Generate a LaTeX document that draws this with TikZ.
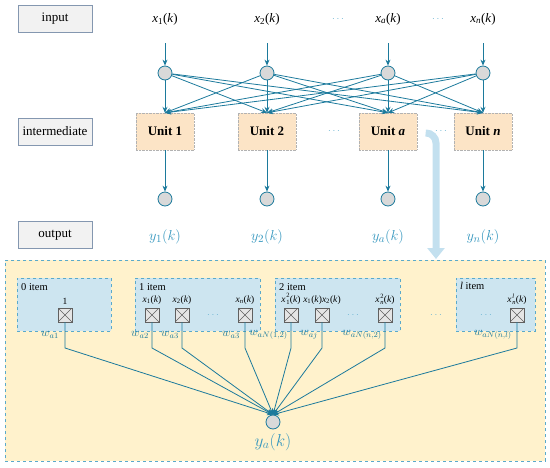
\documentclass[tikz,border=0pt]{standalone}
\usepackage{fontspec}
\setmainfont{Liberation Serif}
\usetikzlibrary{arrows.meta,positioning}
\usepackage{xcolor}
\definecolor{wire}{HTML}{1C7A9C}
\definecolor{ytext}{HTML}{3496BE}
\definecolor{dots}{HTML}{6BB4D2}
\definecolor{labfill}{HTML}{F2F2F2}
\definecolor{labedge}{HTML}{8497B0}
\definecolor{unitfill}{HTML}{FCE4C6}
\definecolor{hidfill}{HTML}{FFF2CC}
\definecolor{itemfill}{HTML}{CDE5F0}
\definecolor{dashedge}{HTML}{5AAACB}
\definecolor{bigblue}{HTML}{C3E0EF}
\newcommand\xsubsup[2]{\kern.8pt\raisebox{-2.2pt}{\fontsize{6.5}{7}\selectfont\shortstack[l]{#2\\#1}}\kern.3pt}

\begin{document}
\begin{tikzpicture}[x=1pt,y=-1pt,font=\fontsize{13}{15}\selectfont,
        lab/.style={rectangle,draw=labedge,fill=labfill,minimum width=74pt,minimum height=27pt},
        unit/.style={rectangle,draw=gray!60,densely dotted,fill=unitfill,minimum width=58pt,
                     minimum height=37pt,font=\fontsize{13}{15}\selectfont\bfseries},
        neuron/.style={circle,draw=wire,fill=gray!30,thick,minimum size=14pt,inner sep=0pt},
        arr/.style={draw=wire,thick,-{Stealth[length=6pt,width=5pt]}},
        ylab/.style={text=ytext,font=\fontsize{15}{17}\selectfont},
        dotsl/.style={text=dots,font=\normalsize},
        item/.style={rectangle,dashed,draw=dashedge,fill=itemfill,line width=.8pt,anchor=north west,
                     minimum height=53pt},
        ititle/.style={anchor=north west,font=\fontsize{10.5}{12}\selectfont,inner sep=1pt},
        xl/.style={font=\fontsize{9.5}{11}\selectfont,inner sep=1pt},
        xbox/.style={rectangle,draw=gray!75!black,fill=gray!20,minimum size=14pt,inner sep=0pt,
                     path picture={\draw[gray!75!black]
                       (path picture bounding box.north west)--(path picture bounding box.south east)
                       (path picture bounding box.south west)--(path picture bounding box.north east);}},
        wl/.style={text=wire,font=\fontsize{12}{14}\selectfont,anchor=east,inner sep=1pt}]
  \useasboundingbox (0,0) rectangle (550,467);

  % left side labels
  \node[lab] (lin) at (55,18.5) {input};
  \node[lab] (lmid) at (55,131.5) {intermediate};
  \node[lab] (lout) at (55,235) {output};

  % inputs
  \node (x1) at (165,19) {\textit{x}\textsubscript{1}(\textit{k})};
  \node (x2) at (267,19) {\textit{x}\textsubscript{2}(\textit{k})};
  \node (x3) at (388,19) {\textit{x}\textsubscript{\textit{a}}(\textit{k})};
  \node (x4) at (483,19) {\textit{x}\textsubscript{\textit{n}}(\textit{k})};
  \node[dotsl] (d1) at (338,19) {$\cdots$};
  \node[dotsl] (d2) at (438,19) {$\cdots$};

  \node[neuron] (c1) at (165,73) {};
  \node[neuron] (c2) at (267,73) {};
  \node[neuron] (c3) at (388,73) {};
  \node[neuron] (c4) at (483,73) {};

  % units
  \node[unit] (u1) at (165,131.5) {Unit 1};
  \node[unit] (u2) at (267,131.5) {Unit 2};
  \node[unit] (u3) at (388,131.5) {Unit \textit{a}};
  \node[unit] (u4) at (483,131.5) {Unit \textit{n}};
  \node[dotsl] (d3) at (334,131) {$\cdots$};

  \node[neuron] (o1) at (165,199) {};
  \node[neuron] (o2) at (267,199) {};
  \node[neuron] (o3) at (388,199) {};
  \node[neuron] (o4) at (483,199) {};

  \node[ylab] (y1) at (165,237) {$y_1(k)$};
  \node[ylab] (y2) at (267,237) {$y_2(k)$};
  \node[ylab] (y3) at (388,237) {$y_a(k)$};
  \node[ylab] (y4) at (483,237) {$y_n(k)$};

  \foreach \i in {1,...,4} {
    \draw[arr] ([yshift=-15pt]x\i.south) -- (c\i);
    \foreach \j in {1,...,4}
      \draw[arr] (c\i) -- (u\j.north);
    \draw[arr] (u\i) -- (o\i);
  }

  % expanded unit a
  \node[draw=dashedge,dashed,fill=hidfill,line width=.9pt,anchor=north west,
        minimum width=540pt,minimum height=201pt] (hid) at (5,260) {};
  \coordinate (bigA) at (427,133);
  \coordinate (bigB) at (436,259);
  \draw[bigblue,line width=7pt,rounded corners=10pt,-{Triangle[length=11pt,width=17pt]}]
    (bigA) -| (bigB);
  \node[dotsl] (d4) at (441,131) {$\cdots$};

  \node[item,minimum width=94pt] (it0) at (17,278) {};
  \node[item,minimum width=125pt] (it1) at (135,278) {};
  \node[item,minimum width=125pt] (it2) at (275,278) {};
  \node[item,minimum width=79pt] (itl) at (456,278) {};
  \node[ititle] (t0) at ([shift={(3pt,-4pt)}]it0.north west) {0 item};
  \node[ititle] (t1) at ([shift={(3pt,-4pt)}]it1.north west) {1 item};
  \node[ititle] (t2) at ([shift={(3pt,-4pt)}]it2.north west) {2 item};
  \node[ititle] (tl) at ([shift={(3pt,-3pt)}]itl.north west) {\textit{l} item};

  \node[xbox] (b0) at (65,315) {};
  \node[xbox] (b1) at (152,315) {};
  \node[xbox] (b2) at (182,315) {};
  \node[xbox] (b3) at (245,315) {};
  \node[xbox] (b4) at (291,315) {};
  \node[xbox] (b5) at (322,315) {};
  \node[xbox] (b6) at (385,315) {};
  \node[xbox] (b7) at (517,315) {};

  \node[xl,above=2pt of b0] (l0) {1};
  \node[xl,above=2pt of b1] (l1) {\textit{x}\textsubscript{1}(\textit{k})};
  \node[xl,above=2pt of b2] (l2) {\textit{x}\textsubscript{2}(\textit{k})};
  \node[xl,above=2pt of b3] (l3) {\textit{x}\textsubscript{\textit{n}}(\textit{k})};
  \node[xl,above=2pt of b4] (l4) {\textit{x}\xsubsup{1}{2}(\textit{k})};
  \node[xl,above=2pt of b5] (l5) {\textit{x}\textsubscript{1}(\textit{k})\textit{x}\textsubscript{2}(\textit{k})};
  \node[xl,above=2pt of b6] (l6) {\textit{x}\xsubsup{\textit{n}}{2}(\textit{k})};
  \node[xl,above=2pt of b7] (l7) {\textit{x}\xsubsup{\textit{n}}{\textit{l}}(\textit{k})};

  \node[dotsl] (d5) at (213,315) {$\cdots$};
  \node[dotsl] (d6) at (353,315) {$\cdots$};
  \node[dotsl] (d7) at (436,315) {$\cdots$};
  \node[dotsl] (d8) at (486,315) {$\cdots$};

  % output of unit a
  \node[neuron] (ya) at (273,422) {};
  \node[ylab,font=\fontsize{18}{20}\selectfont] (yal) at (273,442) {$y_a(k)$};
  \coordinate (knee) at (0,348);
  \coordinate (wrow) at (0,335);

  \node[wl] (w0) at ([xshift=-5pt]b0.south |- wrow) {$w_{a1}$};
  \node[wl] (w1) at ([xshift=-2pt]b1.south |- wrow) {$w_{a2}$};
  \node[wl] (w2) at ([xshift=-2pt]b2.south |- wrow) {$w_{a3}$};
  \node[wl] (w3) at ([xshift=-4pt]b3.south |- wrow) {$w_{a3}$};
  \node[wl] (w4) at ([xshift=-2pt]b4.south |- wrow) {$w_{aN(1,2)}$};
  \node[wl] (w5) at ([xshift=-3pt]b5.south |- wrow) {$w_{aj}$};
  \node[wl] (w6) at ([xshift=-2pt]b6.south |- wrow) {$w_{aN(n,2)}$};
  \node[wl] (w7) at ([xshift=-4pt]b7.south |- wrow) {$w_{aN(n,l)}$};

  \foreach \b in {b0,b1,b2,b3,b4,b5,b6,b7}
    \draw[arr] (\b.south) -- (\b.south |- knee) -- (ya.north);
\end{tikzpicture}
\end{document}
